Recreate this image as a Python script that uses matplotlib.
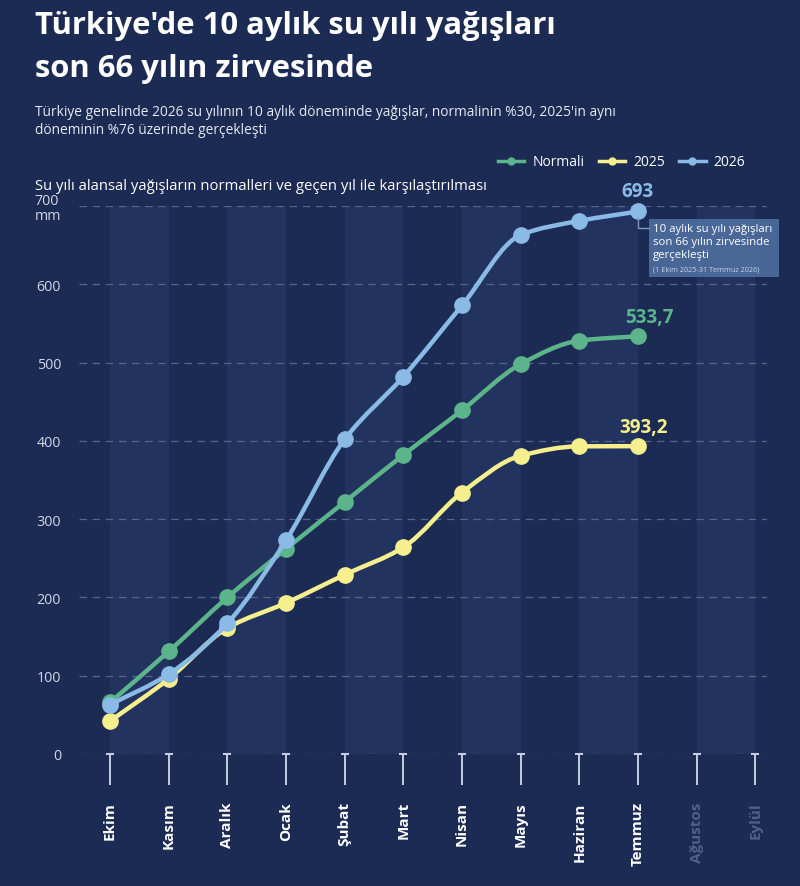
import numpy as np
import matplotlib
matplotlib.use('Agg')
import matplotlib.pyplot as plt
from matplotlib.path import Path
from matplotlib.patches import PathPatch, Rectangle
from matplotlib.lines import Line2D
from matplotlib import transforms

plt.rcParams['font.family'] = ['Open Sans', 'DejaVu Sans']

# veriler (mm, kümülatif)
months = ['Ekim', 'Kasım', 'Aralık', 'Ocak', 'Şubat', 'Mart', 'Nisan',
          'Mayıs', 'Haziran', 'Temmuz', 'Ağustos', 'Eylül']
normali = [66, 131, 200, 262, 322, 382, 439, 498, 528, 533.7]
yil_2025 = [42, 96, 161, 193, 229, 264, 334, 381, 393, 393.2]
yil_2026 = [63, 102, 167, 273, 402, 482, 573, 663, 681, 693]
y_ticks = [0, 100, 200, 300, 400, 500, 600, 700]
y_labels = ['0', '100', '200', '300', '400', '500', '600', '700\nmm']
end_labels = ['533,7', '393,2', '693']

BG = '#1c2b54'
BAND = '#22335f'
GREEN = '#5cb48b'
YELLOW = '#f6ef8e'
BLUE = '#8abae6'
W, H = 800, 887


def smooth_path(xs, ys):
    """Monoton kübik eğri (Bezier) - çizgiyi yumuşatmak için."""
    xs = np.asarray(xs, float)
    ys = np.asarray(ys, float)
    h = np.diff(xs)
    d = np.diff(ys) / h
    m = np.zeros_like(ys)
    m[0], m[-1] = d[0], d[-1]
    for k in range(1, len(ys) - 1):
        if d[k - 1] * d[k] <= 0:
            m[k] = 0
        else:
            m[k] = 2 / (1 / d[k - 1] + 1 / d[k])
    verts = [(xs[0], ys[0])]
    codes = [Path.MOVETO]
    for k in range(len(h)):
        verts += [(xs[k] + h[k] / 3, ys[k] + m[k] * h[k] / 3),
                  (xs[k + 1] - h[k] / 3, ys[k + 1] - m[k + 1] * h[k] / 3),
                  (xs[k + 1], ys[k + 1])]
        codes += [Path.CURVE4] * 3
    return Path(verts, codes)


fig = plt.figure(figsize=(W / 100, H / 100), dpi=100, facecolor=BG)
ax = fig.add_axes([79 / W, 1 - 755 / H, (767 - 79) / W, (755 - 207) / H])
ax.set_facecolor(BG)
ax.set_xlim(-0.53, 11.2)
ax.set_ylim(0, 700)
for s in ax.spines.values():
    s.set_visible(False)

# dikey bantlar
for i in range(0, 11, 2):
    ax.axvspan(i, i + 1, color=BAND, lw=0, zorder=0)

for v in y_ticks:
    ax.axhline(v, color='#56668b', lw=0.9, ls=(0, (6, 4.5)), zorder=1)

x = np.arange(len(normali))
series = [(yil_2025, YELLOW), (normali, GREEN), (yil_2026, BLUE)]
for z, (vals, col) in enumerate(series):
    ax.add_patch(PathPatch(smooth_path(x, vals), fill=False, ec=col, lw=3.2,
                           capstyle='round', joinstyle='round', zorder=3 + z * 2))
    ax.plot(x, vals, 'o', ms=11, color=col, mec=col, ls='none',
            zorder=4 + z * 2, clip_on=False)

# son değer etiketleri
offsets = [(11, 19), (6, 19), (0, 20)]
for vals, col, lab, off in zip([normali, yil_2025, yil_2026], [GREEN, YELLOW, BLUE],
                               end_labels, offsets):
    ax.annotate(lab, xy=(x[-1], vals[-1]), xytext=off, textcoords='offset pixels',
                ha='center', va='center', fontsize=13.5, fontweight='bold',
                color=col, annotation_clip=False, zorder=10)

# not kutusu
px, py = ax.transData.transform((x[-1], yil_2026[-1]))
box = Rectangle((px + 11, py - 66), 130, 58, transform=transforms.IdentityTransform(),
                facecolor='#4d6c9c', edgecolor='none', alpha=0.92, zorder=12, clip_on=False)
ax.add_patch(box)
ax.add_line(Line2D([px, px, px + 11], [py - 7, py - 17, py - 17],
                   transform=transforms.IdentityTransform(), color='#8197bb',
                   lw=1, zorder=12, clip_on=False))
note_lines = [('10 aylık su yılı yağışları', -17, 8.2, 'white'),
              ('son 66 yılın zirvesinde', -30, 8.2, 'white'),
              ('gerçekleşti', -43, 8.2, 'white'),
              ('(1 Ekim 2025-31 Temmuz 2026)', -58, 5.2, '#c9d3e6')]
for txt, dy, fs, col in note_lines:
    ax.annotate(txt, xy=(x[-1], yil_2026[-1]), xytext=(15, dy), textcoords='offset pixels',
                ha='left', va='center', fontsize=fs, color=col,
                annotation_clip=False, zorder=13)

# eksenler
ax.set_yticks(y_ticks)
ax.set_yticklabels(y_labels, fontsize=10.3, color='#d0d6e3', linespacing=1.0)
for t in ax.get_yticklabels():
    t.set_ha('right')
    t.set_multialignment('left')
ax.tick_params(axis='y', length=0, pad=13)

ax.set_xticks(range(len(months)))
ax.set_xticklabels(months, rotation=90, fontsize=11, fontweight='bold')
ax.tick_params(axis='x', length=22, width=1.4, color='#c5cde0', pad=12)
for i, t in enumerate(ax.get_xticklabels()):
    t.set_color('white' if i < len(normali) else '#4f6186')
ax.plot(range(len(months)), [0] * len(months), marker='_', ms=6, mew=1.5,
        ls='none', color='#c5cde0', clip_on=False, zorder=2)

# lejant
handles = [Line2D([], [], color=c, lw=2.5, marker='o', ms=5) for c in (GREEN, YELLOW, BLUE)]
ax.legend(handles, ['Normali', '2025', '2026'], loc='center right',
          bbox_to_anchor=(758 / W, 1 - 163 / H), bbox_transform=fig.transFigure,
          ncol=3, frameon=False, fontsize=10, labelcolor='white',
          handlelength=1.9, handletextpad=0.6, columnspacing=1.0)

# başlıklar
fig.text(35 / W, 1 - 26 / H, "Türkiye'de 10 aylık su yılı yağışları", fontsize=22.3,
         fontweight='bold', color='white', va='center')
fig.text(35 / W, 1 - 69 / H, 'son 66 yılın zirvesinde', fontsize=22.3,
         fontweight='bold', color='white', va='center')
fig.text(35 / W, 1 - 113 / H, "Türkiye genelinde 2026 su yılının 10 aylık döneminde yağışlar, "
         "normalinin %30, 2025'in aynı", fontsize=9.9, color='#e6eaf2', va='center')
fig.text(35 / W, 1 - 130 / H, 'döneminin %76 üzerinde gerçekleşti', fontsize=9.9,
         color='#e6eaf2', va='center')
fig.text(35 / W, 1 - 186 / H, 'Su yılı alansal yağışların normalleri ve geçen yıl ile '
         'karşılaştırılması', fontsize=10.7, color='white', va='center')

fig.savefig('out.png', dpi=100, facecolor=BG)
